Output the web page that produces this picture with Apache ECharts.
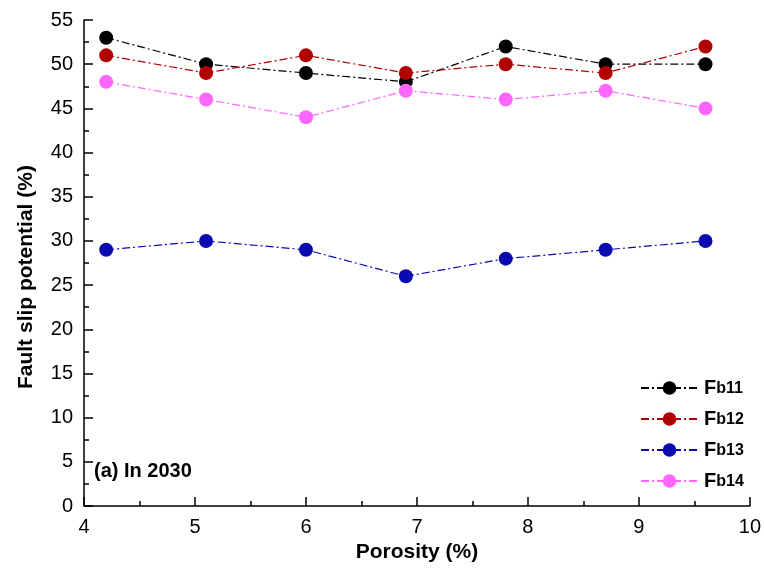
<!DOCTYPE html>
<html><head><meta charset="utf-8">
<script src="https://cdn.jsdelivr.net/npm/echarts@6/dist/echarts.min.js"></script>
<style>html,body{margin:0;padding:0;background:#fff}#c{width:764px;height:568px}</style>
</head><body><div id="c"></div>
<script>
const porosity = [4.2, 5.1, 6.0, 6.9, 7.8, 8.7, 9.6];
const fb11 = [53, 50, 49, 48, 52, 50, 50];
const fb12 = [51, 49, 51, 49, 50, 49, 52];
const fb13 = [29, 30, 29, 26, 28, 29, 30];
const fb14 = [48, 46, 44, 47, 46, 47, 45];
const seriesNames = ['Fb11', 'Fb12', 'Fb13', 'Fb14'];
const seriesData = [fb11, fb12, fb13, fb14];
const colors = ['#000000', '#b00000', '#0a0ab0', '#ff66ff'];
const font = 'Liberation Sans, Arial, sans-serif';

const chart = echarts.init(document.getElementById('c'));
chart.setOption({
  animation: false,
  backgroundColor: '#fff',
  grid: { left: 84, right: 13, top: 20, bottom: 59, containLabel: false },
  title: {
    text: '(a) In 2030', left: 94, top: 461, padding: 0,
    textStyle: { fontFamily: font, fontSize: 20, fontWeight: 'bold', color: '#000' }
  },
  legend: {
    left: 640, top: 378, orient: 'vertical', padding: 0,
    itemWidth: 57, itemHeight: 17, itemGap: 11,
    data: seriesNames,
    formatter: n => '{f|F}{s|' + n.slice(1) + '}',
    textStyle: {
      fontFamily: font, color: '#000', padding: [0, 0, 0, 1],
      rich: {
        f: { fontFamily: font, fontSize: 20, fontWeight: 'bold', color: '#000', lineHeight: 20, verticalAlign: 'bottom' },
        s: { fontFamily: font, fontSize: 16, fontWeight: 'bold', color: '#000', lineHeight: 20, verticalAlign: 'bottom', padding: [0, 0, 1, 0] }
      }
    }
  },
  xAxis: {
    type: 'value', min: 4, max: 10, interval: 1,
    name: 'Porosity (%)', nameLocation: 'middle', nameGap: 33,
    nameTextStyle: { fontFamily: font, fontSize: 21, fontWeight: 'bold', color: '#000' },
    axisLine: { lineStyle: { color: '#000', width: 1.5 } },
    axisTick: { inside: true, length: 9, lineStyle: { color: '#000', width: 1.5 } },
    minorTick: { show: true, splitNumber: 2, length: 5, lineStyle: { color: '#000', width: 1.5 } },
    axisLabel: { fontFamily: font, fontSize: 20, color: '#000', margin: 11 },
    splitLine: { show: false }
  },
  yAxis: {
    type: 'value', min: 0, max: 55, interval: 5,
    name: 'Fault slip potential (%)', nameLocation: 'middle', nameGap: 47,
    nameTextStyle: { fontFamily: font, fontSize: 21, fontWeight: 'bold', color: '#000', padding: [0, 28, 0, 0] },
    axisLine: { show: true, lineStyle: { color: '#000', width: 1.5 } },
    axisTick: { show: true, inside: true, length: 9, lineStyle: { color: '#000', width: 1.5 } },
    minorTick: { show: true, splitNumber: 2, length: 5, lineStyle: { color: '#000', width: 1.5 } },
    axisLabel: { fontFamily: font, fontSize: 20, color: '#000', margin: 11 },
    splitLine: { show: false }
  },
  series: seriesNames.map((n, i) => ({
    name: n, type: 'line',
    data: porosity.map((x, j) => [x, seriesData[i][j]]),
    symbol: 'circle', symbolSize: 14,
    itemStyle: { color: colors[i] },
    lineStyle: { color: colors[i], width: 1.2, type: [8, 3, 2, 3] },
    z: 2 + i
  }))
});
</script></body></html>
